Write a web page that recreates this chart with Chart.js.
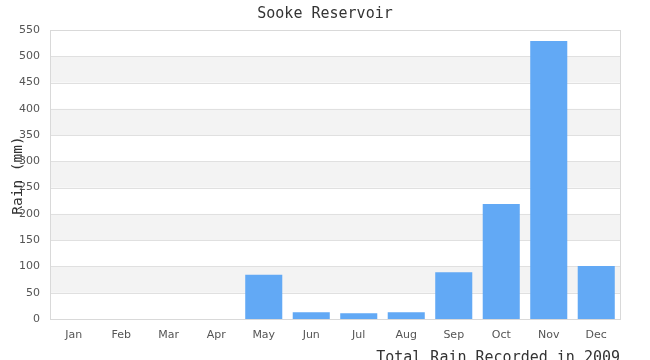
<!DOCTYPE html>
<html>
<head>
<meta charset="utf-8">
<script src="https://cdn.jsdelivr.net/npm/chart.js@4/dist/chart.umd.min.js"></script>
<style>
html,body{margin:0;padding:0;background:#fff;}
#wrap{width:650px;height:360px;position:relative;}
</style>
</head>
<body>
<div id="wrap"><canvas id="c" width="650" height="360"></canvas></div>
<script>
const categories = ["Jan","Feb","Mar","Apr","May","Jun","Jul","Aug","Sep","Oct","Nov","Dec"];
const rainValues = [0, 0, 0, 0, 84, 13, 11, 13, 89, 219, 529, 101];
const yTicks = [0,50,100,150,200,250,300,350,400,450,500,550];
const chartTitle = "Sooke Reservoir";
const xTitle = "Total Rain Recorded in 2009";
const yTitle = "Rain (mm)";

const MONO = '"DejaVu Sans Mono", monospace';

const decor = {
  id: 'decor',
  beforeDatasetsDraw(chart) {
    const {ctx, chartArea: a, scales: {y}} = chart;
    ctx.save();
    for (let i = 0; i < yTicks.length - 1; i++) {
      if (i % 2 === 1) {
        const top = y.getPixelForValue(yTicks[i+1]);
        const bot = y.getPixelForValue(yTicks[i]);
        ctx.fillStyle = '#f3f3f3';
        ctx.fillRect(a.left, top, a.right - a.left, bot - top);
      }
    }
    ctx.strokeStyle = '#e0e0e0';
    ctx.lineWidth = 1;
    yTicks.forEach(v => {
      const py = Math.round(y.getPixelForValue(v)) + 0.5;
      ctx.beginPath(); ctx.moveTo(a.left, py); ctx.lineTo(a.right, py); ctx.stroke();
    });
    ctx.strokeStyle = '#d9d9d9';
    ctx.strokeRect(Math.round(a.left)+0.5, Math.round(a.top)+0.5, Math.round(a.right-a.left), Math.round(a.bottom-a.top));
    ctx.restore();
  },
  afterDraw(chart) {
    const {ctx, chartArea: a} = chart;
    ctx.save();
    ctx.fillStyle = '#333';
    ctx.font = '15px ' + MONO;
    ctx.textAlign = 'center';
    ctx.textBaseline = 'middle';
    ctx.fillText(chartTitle, 325, 14);
    ctx.font = '15px ' + MONO;
    ctx.textAlign = 'right';
    ctx.textBaseline = 'alphabetic';
    ctx.fillText(xTitle, a.right, 362);
    ctx.translate(18, (a.top + a.bottom) / 2 + 1);
    ctx.rotate(-Math.PI / 2);
    ctx.textAlign = 'center';
    ctx.textBaseline = 'middle';
    ctx.font = '14.5px ' + MONO;
    ctx.fillText(yTitle, 0, 0);
    ctx.restore();
  }
};

new Chart(document.getElementById('c'), {
  type: 'bar',
  data: {
    labels: categories,
    datasets: [{
      data: rainValues,
      backgroundColor: '#62a9f5',
      borderWidth: 0,
      categoryPercentage: 1.0,
      barPercentage: 0.78
    }]
  },
  options: {
    responsive: false,
    animation: false,
    devicePixelRatio: 1,
    layout: { padding: { left: 0, right: 30, top: 30, bottom: 0 } },
    plugins: { legend: { display: false }, title: { display: false }, tooltip: { enabled: false } },
    scales: {
      x: {
        grid: { display: false, drawTicks: false },
        border: { display: false },
        ticks: { color: '#555', font: { family: '"DejaVu Sans", sans-serif', size: 11 }, padding: 10, maxRotation: 0 },
        afterFit(s) { s.height = 41; }
      },
      y: {
        min: 0, max: 550,
        grid: { display: false, drawTicks: false },
        border: { display: false },
        afterBuildTicks(s) { s.ticks = yTicks.map(v => ({ value: v })); },
        ticks: { color: '#555', font: { family: '"DejaVu Sans", sans-serif', size: 11 }, padding: 10 },
        afterFit(s) { s.width = 50; }
      }
    }
  },
  plugins: [decor]
});
</script>
</body>
</html>
